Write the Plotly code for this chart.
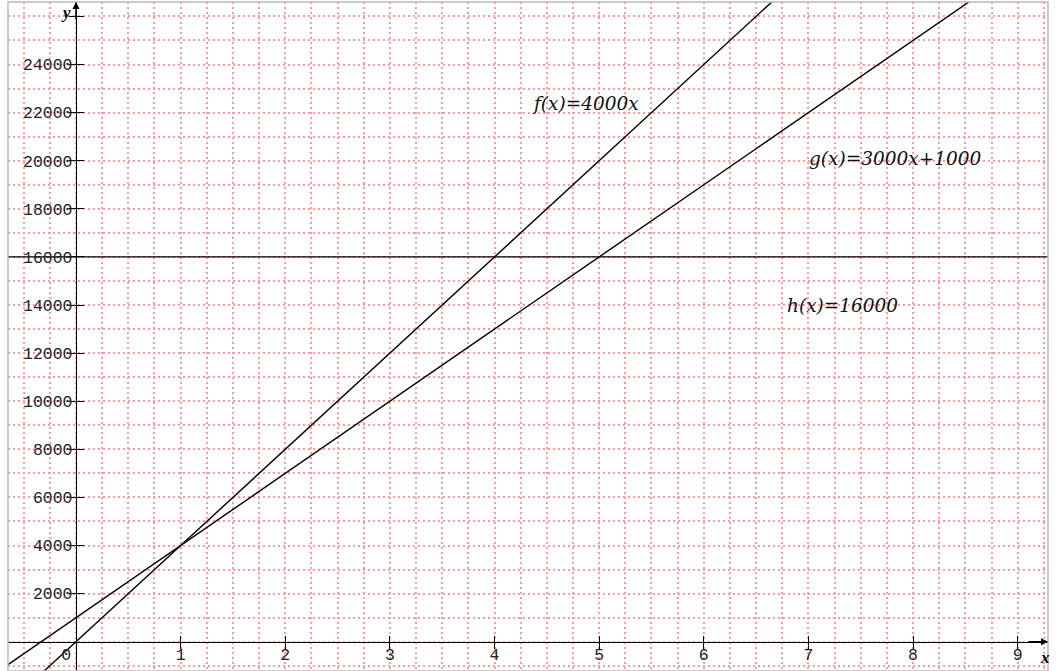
import numpy as np
import plotly.graph_objects as go

# ---- data ----
func_names = ["f", "g", "h"]
slopes = [4000, 3000, 0]
intercepts = [0, 1000, 16000]
func_labels = ["f(x)=4000x", "g(x)=3000x+1000", "h(x)=16000"]
label_x = [4.87, 7.83, 7.33]
label_y = [22400, 20110, 14000]

x_tickvals = [0, 1, 2, 3, 4, 5, 6, 7, 8, 9]
x_ticktext = ["0\u00a0\u00a0", "1", "2", "3", "4", "5", "6", "7", "8", "9"]
y_tickvals = [2000, 4000, 6000, 8000, 10000, 12000, 14000, 16000, 18000, 20000, 22000, 24000, 26000]
y_ticktext = ["2000", "4000", "6000", "8000", "10000", "12000", "14000", "16000", "18000", "20000", "22000", "24000", ""]
x_grid_step = 0.25
y_grid_step = 1000

x_range = [-0.65, 9.29]
y_range = [-1218, 26600]

# ---- style ----
grid_color = "#ff9a9a"
grid_dash = "2px,3px"
tick_font = dict(family="Liberation Mono", size=16.5, color="#222")
xpos = (0 - y_range[0]) / (y_range[1] - y_range[0])
ypos = (0 - x_range[0]) / (x_range[1] - x_range[0])

fig = go.Figure()
# invisible trace to activate the grid axes
fig.add_trace(go.Scatter(x=[None], y=[None], xaxis="x3", yaxis="y3",
                         showlegend=False, hoverinfo="skip"))
xs = np.linspace(x_range[0], x_range[1], 200)
for name, m, b in zip(func_names, slopes, intercepts):
    fig.add_trace(go.Scatter(x=xs, y=m * xs + b, mode="lines", name=name,
                             line=dict(color="black", width=1.4),
                             hoverinfo="skip", showlegend=False,
                             xaxis="x2", yaxis="y2"))

for txt, lx, ly in zip(func_labels, label_x, label_y):
    fig.add_annotation(x=lx, y=ly, text="<i>" + txt + "</i>", showarrow=False,
                       font=dict(family="DejaVu Serif", size=18.5, color="#111"),
                       xref="x", yref="y")

# axis arrows
fig.add_annotation(x=x_range[1], y=0, ax=x_range[1] - 0.2, ay=0, xref="x", yref="y",
                   axref="x", ayref="y", showarrow=True, arrowhead=2, arrowsize=1,
                   arrowwidth=1.4, arrowcolor="black", text="")
fig.add_annotation(x=0, y=y_range[1], ax=0, ay=y_range[1] - 800, xref="x", yref="y",
                   axref="x", ayref="y", showarrow=True, arrowhead=2, arrowsize=1,
                   arrowwidth=1.4, arrowcolor="black", text="")
# axis titles
fig.add_annotation(x=9.26, y=-636, text="<b><i>x</i></b>", showarrow=False,
                   font=dict(family="Liberation Serif", size=17, color="black"))
fig.add_annotation(x=-0.096, y=26180, text="<b><i>y</i></b>", showarrow=False,
                   font=dict(family="Liberation Serif", size=17, color="black"))

common_x = dict(range=x_range, tickmode="array", tickvals=x_tickvals,
                zeroline=False, anchor="free", position=xpos, automargin=False,
                tickcolor="black", tickwidth=1.4, ticklen=6, showgrid=False)
common_y = dict(range=y_range, tickmode="array", tickvals=y_tickvals,
                zeroline=False, anchor="free", position=ypos, automargin=False,
                tickcolor="black", tickwidth=1.4, ticklen=7, showgrid=False)
grid_common = dict(zeroline=False, showticklabels=False, ticks="", showline=False,
                   showgrid=True, gridcolor=grid_color, griddash=grid_dash,
                   gridwidth=1.5, automargin=False, tickmode="linear", tick0=0)

fig.update_layout(
    template="none",
    width=1057, height=671,
    margin=dict(l=8, r=9, t=2, b=0),
    paper_bgcolor="white", plot_bgcolor="white",
    xaxis=dict(**common_x, ticktext=x_ticktext, ticks="outside",
               showticklabels=True, tickfont=tick_font, ticklabelstandoff=-9,
               showline=True, linecolor="black", linewidth=1.4),
    yaxis=dict(**common_y, ticktext=y_ticktext, ticks="outside",
               showticklabels=True, tickfont=tick_font, ticklabelstandoff=-7,
               showline=True, linecolor="black", linewidth=1.4),
    xaxis2=dict(**common_x, overlaying="x", ticks="inside", showticklabels=False,
                showline=False),
    yaxis2=dict(**common_y, overlaying="y", ticks="inside", showticklabels=False,
                showline=False),
    xaxis3=dict(**grid_common, overlaying="x", anchor="y3", range=x_range, dtick=x_grid_step),
    yaxis3=dict(**grid_common, overlaying="y", anchor="x3", range=y_range, dtick=y_grid_step),
    shapes=[dict(type="rect", xref="paper", yref="paper", x0=0, x1=1, y0=0, y1=1,
                 line=dict(color="#bbbbbb", width=1.5), layer="above")],
)

fig.write_html("out.html", config={"displayModeBar": False},
               post_script="document.body.style.margin='0';")
